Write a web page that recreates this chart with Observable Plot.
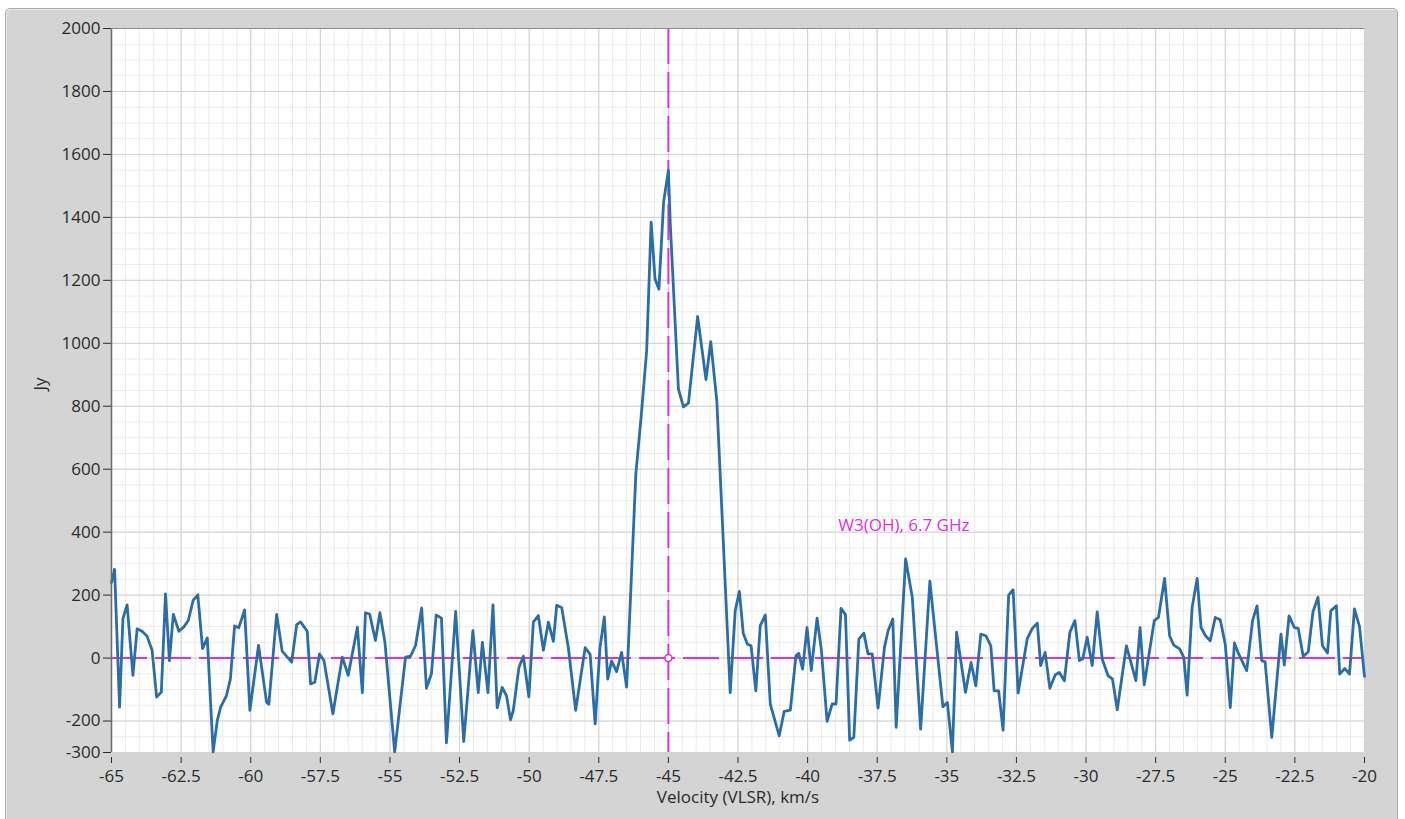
<!DOCTYPE html>
<html>
<head>
<meta charset="utf-8">
<script src="https://cdn.jsdelivr.net/npm/d3@7"></script>
<script src="https://cdn.jsdelivr.net/npm/@observablehq/plot@0.6"></script>
<style>
  html, body { margin: 0; padding: 0; background: #ffffff; }
  body { width: 1405px; height: 819px; overflow: hidden; position: relative; }
  #panel {
    position: absolute; left: 5px; top: 8px; width: 1391px; height: 830px;
    background: #d4d4d4; border: 1px solid #a9a9a9; border-radius: 5px;
    box-shadow: inset 1px 1px 0 #ececec;
  }
  #chart { position: absolute; left: 0; top: 0; }
</style>
</head>
<body>
<div id="panel"></div>
<div id="chart"></div>
<script>
// Velocity (VLSR, km/s) of each spectrum vertex
const velocity = [
  -65.00, -64.89, -64.71, -64.59, -64.44, -64.23, -64.08, -63.90, -63.72, -63.54,
  -63.38, -63.21, -63.06, -62.92, -62.78, -62.58, -62.40, -62.24, -62.07, -61.90,
  -61.73, -61.56, -61.35, -61.20, -61.08, -60.87, -60.73, -60.58, -60.43, -60.22,
  -60.03, -59.72, -59.43, -59.35, -59.07, -58.87, -58.53, -58.35, -58.21,
  -57.97, -57.85, -57.70, -57.53, -57.37, -57.05, -56.71, -56.50, -56.17, -55.99,
  -55.88, -55.73, -55.52, -55.36, -55.18, -54.83, -54.44, -54.26, -54.08, -53.86,
  -53.69, -53.51, -53.34, -53.15, -52.97, -52.64, -52.35, -52.02, -51.83, -51.68,
  -51.48, -51.30, -51.15, -50.97, -50.81, -50.67,
  -50.57, -50.37, -50.21, -50.01, -49.85, -49.67, -49.49, -49.31, -49.13, -49.01,
  -48.83, -48.59, -48.33, -47.99, -47.81, -47.63, -47.46, -47.30, -47.18, -47.04,
  -46.86, -46.68, -46.50, -46.17, -45.96, -45.78, -45.62, -45.48, -45.34, -45.17,
  -45.00, -44.93, -44.64, -44.46, -44.28, -43.95, -43.65, -43.48, -43.26, -42.78,
  -42.60, -42.45, -42.31, -42.16, -42.03,
  -41.86, -41.70, -41.52, -41.34, -41.02, -40.84, -40.62, -40.42, -40.32, -40.18,
  -40.02, -39.87, -39.66, -39.51, -39.30, -39.12, -38.98, -38.80, -38.64, -38.49,
  -38.34, -38.16, -37.98, -37.83, -37.68, -37.47, -37.24, -37.11, -36.94, -36.82,
  -36.48, -36.24, -35.94, -35.61, -35.14, -34.98, -34.80,
  -34.65, -34.33, -34.13, -33.96, -33.78, -33.60, -33.42, -33.30, -33.14, -32.98,
  -32.78, -32.62, -32.44, -32.11, -31.93, -31.75, -31.63, -31.47, -31.30, -31.11,
  -30.96, -30.78, -30.58, -30.40, -30.24, -30.12, -29.96, -29.78, -29.60, -29.42,
  -29.21, -29.05, -28.88, -28.55, -28.21, -28.06, -27.91, -27.55, -27.40, -27.18,
  -27.00, -26.85, -26.64, -26.49, -26.37, -26.19, -26.01, -25.87, -25.71, -25.54,
  -25.36, -25.18, -25.00, -24.82, -24.67, -24.52, -24.23, -24.02, -23.86, -23.69,
  -23.57, -23.33, -23.00, -22.88, -22.71, -22.52, -22.38, -22.20, -22.02, -21.85,
  -21.67, -21.51, -21.33, -21.21, -21.01, -20.89, -20.71, -20.54, -20.36, -20.18,
  -20.00
];
// Flux density (Jy) at each vertex
const flux = [
   240,  282, -156,  125,  169,  -55,   93,   85,   69,   24,
  -124, -108,  204,   -8,  139,   85,   99,  120,  183,  201,
    30,   64, -298, -198, -156, -119,  -66,  102,   96,  153,
  -166,   40, -140, -147,  139,   22,  -13,  106,  115,
    85,  -82,  -77,   13,   -8, -177,    3,  -55,   98, -110,
   144,  140,   56,  144,   50, -298,    3,    6,   40,  159,
   -96,  -50,  137,  127, -269,  148, -265,   87, -110,   50,
  -110,  169, -158,  -93, -121, -196,
  -166,  -31,    6, -123,  114,  135,   25,  114,   53,  168,
   160,   31, -166,   33,   12, -209,   31,  131,  -67,   -9,
   -43,   18,  -92,  583,  785,  977, 1385, 1205, 1172, 1450,
  1550, 1375,  855,  798,  810, 1085,  885, 1005,  816, -110,
   150,  212,   78,   44,   39,
  -104,  103,  137, -146, -247, -169, -165,    7,   15,  -35,
    97,  -40,  127,   29, -201, -146, -146,  158,  138, -261,
  -252,   60,   79,   13,   13, -159,   34,   87,  124, -220,
   315,  193, -226,  244, -155, -141, -298,
    82, -109,  -14,  -88,   76,   71,   39, -104, -104, -229,
   200,  217, -111,   62,   94,  111,  -24,   18,  -96,  -54,
   -46,  -72,   82,  119,   -8,   -3,   66,  -24,  147,   -3,
   -56,  -67, -164,   39,  -72,   97,  -85,  119,  129,  253,
    71,   41,   29,    2, -118,  161,  253,   97,   71,   55,
   129,  122,   44, -157,   48,   13,  -40,  119,  166,   -8,
   -12, -252,   76,  -22,  134,   97,   94,    5,   20,  147,
   193,   39,   16,  150,  166,  -51,  -33,  -51,  156,  101,
   -58
];
const xTicks = [-65, -62.5, -60, -57.5, -55, -52.5, -50, -47.5, -45, -42.5, -40, -37.5, -35, -32.5, -30, -27.5, -25, -22.5, -20];
const yTicks = [-300, -200, 0, 200, 400, 600, 800, 1000, 1200, 1400, 1600, 1800, 2000];
const cursorVelocity = -45;
const cursorFlux = 0;
const annotText = "W3(OH), 6.7 GHz";
const annotVelocity = -38.9;
const annotFlux = 420;
const xLabel = "Velocity (VLSR), km/s";
const yLabel = "Jy";

const pink = "#e030dc";
const data = velocity.map((v, i) => ({v, jy: flux[i]}));
const xMinor = d3.range(-65, -19.99, 0.5);
const yMinor = d3.range(-300, 2000.1, 50);

const chart = Plot.plot({
  width: 1405,
  height: 819,
  marginLeft: 111,
  marginRight: 41,
  marginTop: 28,
  marginBottom: 67,
  style: {background: "transparent", fontFamily: "'Open Sans', 'Noto Sans', sans-serif", fontSize: "17px", color: "#2a2a2a"},
  x: {domain: [-65, -20]},
  y: {domain: [-300, 2000]},
  marks: [
    Plot.frame({fill: "white", stroke: null}),
    Plot.ruleX(xMinor, {stroke: "#ebebeb", strokeWidth: 1}),
    Plot.ruleY(yMinor, {stroke: "#ebebeb", strokeWidth: 1}),
    Plot.ruleX(xTicks, {stroke: "#d2d2d2", strokeWidth: 1}),
    Plot.ruleY(yTicks, {stroke: "#d2d2d2", strokeWidth: 1}),
    Plot.ruleY([cursorFlux], {stroke: pink, strokeWidth: 2, strokeDasharray: "36,8"}),
    Plot.ruleX([cursorVelocity], {stroke: pink, strokeWidth: 2, strokeDasharray: "36,8"}),
    Plot.line(data, {x: "v", y: "jy", stroke: "#2b6ea7", strokeWidth: 2.8, strokeLinejoin: "round"}),
    Plot.dot([{v: cursorVelocity, jy: cursorFlux}], {x: "v", y: "jy", r: 3.5, stroke: pink, fill: "white", strokeWidth: 1.5}),
    Plot.text([{v: annotVelocity, jy: annotFlux, t: annotText}], {x: "v", y: "jy", text: "t", textAnchor: "start", fill: pink, fontSize: 17}),
    Plot.ruleX([-65], {stroke: "#6a6a6a", strokeWidth: 1.5}),
    Plot.ruleY([2000], {stroke: "#8a8a8a", strokeWidth: 1}),
    Plot.axisY({ticks: yTicks, tickFormat: d => String(d), tickSize: 8, tickPadding: 3, label: null, fontSize: 17}),
    Plot.axisX({ticks: xTicks, tickFormat: d => String(d), tickSize: 6, tickPadding: 6, dy: 5, label: null, fontSize: 17}),
    Plot.text([xLabel], {frameAnchor: "bottom", dy: 50, fontSize: 17, fill: "#2a2a2a"}),
    Plot.text([yLabel], {frameAnchor: "left", dx: -71, rotate: -90, fontSize: 17, fill: "#2a2a2a"})
  ]
});
document.getElementById("chart").appendChild(chart);
</script>
</body>
</html>
